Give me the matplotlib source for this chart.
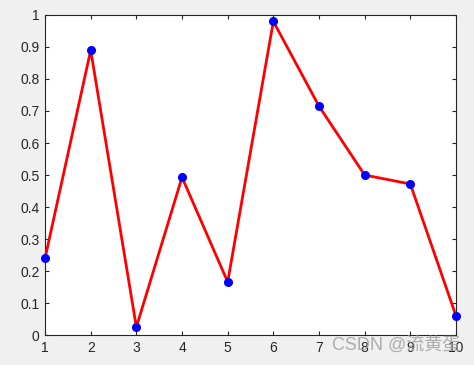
import numpy as np
import matplotlib.pyplot as plt

x = [1, 2, 3, 4, 5, 6, 7, 8, 9, 10]
y = [0.24, 0.89, 0.025, 0.493, 0.166, 0.98, 0.715, 0.50, 0.472, 0.06]
xticks = [1, 2, 3, 4, 5, 6, 7, 8, 9, 10]
yticks = [0, 0.1, 0.2, 0.3, 0.4, 0.5, 0.6, 0.7, 0.8, 0.9, 1]
ytick_labels = ["0", "0.1", "0.2", "0.3", "0.4", "0.5", "0.6", "0.7", "0.8", "0.9", "1"]

plt.rcParams['font.family'] = ['Liberation Sans', 'Noto Sans CJK SC', 'DejaVu Sans']

fig = plt.figure(figsize=(4.74, 3.65), dpi=100, facecolor='#f0f0f0')
ax = fig.add_axes([0.095, 0.082, 0.867, 0.877])
ax.plot(x, y, color='red', lw=2, marker='o', markersize=5.5,
        markerfacecolor='blue', markeredgecolor='blue', clip_on=False, zorder=3)
ax.set_xlim(1, 10)
ax.set_ylim(0, 1)
ax.set_xticks(xticks)
ax.set_yticks(yticks)
ax.set_yticklabels(ytick_labels)
ax.tick_params(direction='in', top=True, right=True, length=3, width=0.8,
               labelsize=10, colors='#262626', pad=4)
for s in ax.spines.values():
    s.set_color('#262626')
    s.set_linewidth(0.8)

fig.text(0.97, 0.03, "CSDN @流黄蛋", ha='right', va='bottom',
         fontsize=13, color='#a0a0a0', alpha=0.85)

fig.savefig('out.png', dpi=100, facecolor=fig.get_facecolor())
